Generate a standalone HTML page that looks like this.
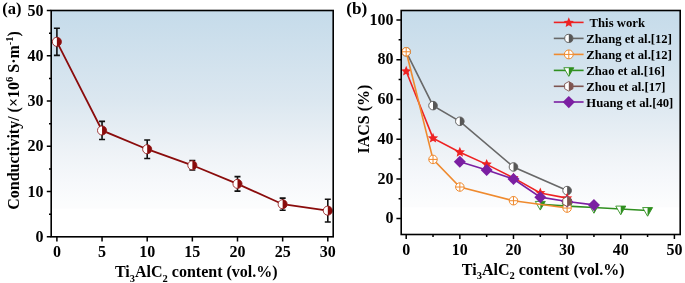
<!DOCTYPE html><html><head><meta charset="utf-8"><style>
html,body{margin:0;padding:0;background:#fff;width:685px;height:283px;overflow:hidden}
svg{display:block;will-change:transform}
text{font-family:'Liberation Serif',serif;font-weight:bold;fill:#000}
</style></head><body>
<svg width="685" height="283" viewBox="0 0 685 283">
<defs>
<linearGradient id="ga" x1="0" y1="0" x2="0" y2="1">
<stop offset="0" stop-color="rgb(197,219,234)"/>
<stop offset="0.45" stop-color="rgb(219,231,240)"/>
<stop offset="0.73" stop-color="rgb(239,243,247)"/>
<stop offset="0.86" stop-color="rgb(246,248,251)"/>
<stop offset="0.97" stop-color="rgb(251,252,253)"/>
<stop offset="1" stop-color="rgb(252,252,253)"/>
</linearGradient>
</defs>
<rect x="51.2" y="10.5" width="282.0" height="198.1" fill="url(#ga)"/>
<rect x="401.2" y="10.5" width="279.00000000000006" height="196.7" fill="url(#ga)"/>
<path d="M56.90 236.8V241.4 M102.05 236.8V241.4 M147.20 236.8V241.4 M192.35 236.8V241.4 M237.50 236.8V241.4 M282.65 236.8V241.4 M327.80 236.8V241.4 M51.2 236.80H46.800000000000004 M51.2 214.17H49.0 M51.2 191.54H46.800000000000004 M51.2 168.91H49.0 M51.2 146.28H46.800000000000004 M51.2 123.65H49.0 M51.2 101.02H46.800000000000004 M51.2 78.39H49.0 M51.2 55.76H46.800000000000004 M51.2 33.13H49.0 M51.2 10.50H46.800000000000004" stroke="#000" stroke-width="1.5" fill="none"/>
<path d="M406.20 234.5V238.9 M433.02 234.5V236.9 M459.84 234.5V238.9 M486.66 234.5V236.9 M513.48 234.5V238.9 M540.30 234.5V236.9 M567.12 234.5V238.9 M593.94 234.5V236.9 M620.76 234.5V238.9 M647.58 234.5V236.9 M674.40 234.5V238.9 M401.2 218.60H396.4 M401.2 198.74H398.59999999999997 M401.2 178.88H396.4 M401.2 159.02H398.59999999999997 M401.2 139.16H396.4 M401.2 119.30H398.59999999999997 M401.2 99.44H396.4 M401.2 79.58H398.59999999999997 M401.2 59.72H396.4 M401.2 39.86H398.59999999999997 M401.2 20.00H396.4" stroke="#000" stroke-width="1.5" fill="none"/>
<text x="56.90" y="257.4" font-size="16" text-anchor="middle">0</text>
<text x="102.05" y="257.4" font-size="16" text-anchor="middle">5</text>
<text x="147.20" y="257.4" font-size="16" text-anchor="middle">10</text>
<text x="192.35" y="257.4" font-size="16" text-anchor="middle">15</text>
<text x="237.50" y="257.4" font-size="16" text-anchor="middle">20</text>
<text x="282.65" y="257.4" font-size="16" text-anchor="middle">25</text>
<text x="327.80" y="257.4" font-size="16" text-anchor="middle">30</text>
<text x="43.60" y="241.80" font-size="16" text-anchor="end">0</text>
<text x="43.60" y="196.54" font-size="16" text-anchor="end">10</text>
<text x="43.60" y="151.28" font-size="16" text-anchor="end">20</text>
<text x="43.60" y="106.02" font-size="16" text-anchor="end">30</text>
<text x="43.60" y="60.76" font-size="16" text-anchor="end">40</text>
<text x="43.60" y="15.50" font-size="16" text-anchor="end">50</text>
<text x="406.20" y="254.6" font-size="16" text-anchor="middle">0</text>
<text x="459.84" y="254.6" font-size="16" text-anchor="middle">10</text>
<text x="513.48" y="254.6" font-size="16" text-anchor="middle">20</text>
<text x="567.12" y="254.6" font-size="16" text-anchor="middle">30</text>
<text x="620.76" y="254.6" font-size="16" text-anchor="middle">40</text>
<text x="674.40" y="254.6" font-size="16" text-anchor="middle">50</text>
<text x="393.60" y="223.30" font-size="16" text-anchor="end">0</text>
<text x="393.60" y="183.58" font-size="16" text-anchor="end">20</text>
<text x="393.60" y="143.86" font-size="16" text-anchor="end">40</text>
<text x="393.60" y="104.14" font-size="16" text-anchor="end">60</text>
<text x="393.60" y="64.42" font-size="16" text-anchor="end">80</text>
<text x="393.60" y="24.70" font-size="16" text-anchor="end">100</text>
<text x="2.3" y="13.6" font-size="16.5">(a)</text>
<text x="346.3" y="13.7" font-size="17.2">(b)</text>
<text x="196.3" y="277.0" font-size="16" text-anchor="middle">Ti<tspan font-size="10.5" dy="4.5">3</tspan><tspan dy="-4.5">AlC</tspan><tspan font-size="10.5" dy="4.5">2</tspan><tspan dy="-4.5"> content (vol.%)</tspan></text>
<text x="543.2" y="274.6" font-size="16" text-anchor="middle">Ti<tspan font-size="10.5" dy="4.5">3</tspan><tspan dy="-4.5">AlC</tspan><tspan font-size="10.5" dy="4.5">2</tspan><tspan dy="-4.5"> content (vol.%)</tspan></text>
<text transform="translate(19.3,120.4) rotate(-90)" font-size="16" text-anchor="middle">Conductivity/ (×10<tspan font-size="10.5" dy="-6">6</tspan><tspan dy="6"> S·m</tspan><tspan font-size="10.5" dy="-6">-1</tspan><tspan dy="6">)</tspan></text>
<text transform="translate(369.4,119.1) rotate(-90)" font-size="16" text-anchor="middle">IACS (%)</text>
<polyline points="56.90,41.82 102.05,130.44 147.20,149.22 192.35,165.29 237.50,183.85 282.65,204.21 327.80,210.64" fill="none" stroke="#8a0c0c" stroke-width="1.8"/>
<path d="M56.90 28.24V55.40M53.90 28.24H59.90M53.90 55.40H59.90" stroke="#111" stroke-width="1.6"/>
<path d="M102.05 121.39V139.49M99.05 121.39H105.05M99.05 139.49H105.05" stroke="#111" stroke-width="1.6"/>
<path d="M147.20 139.94V158.50M144.20 139.94H150.20M144.20 158.50H150.20" stroke="#111" stroke-width="1.6"/>
<path d="M192.35 160.54V170.04M189.35 160.54H195.35M189.35 170.04H195.35" stroke="#111" stroke-width="1.6"/>
<path d="M237.50 176.60V191.09M234.50 176.60H240.50M234.50 191.09H240.50" stroke="#111" stroke-width="1.6"/>
<path d="M282.65 198.10V210.32M279.65 198.10H285.65M279.65 210.32H285.65" stroke="#111" stroke-width="1.6"/>
<path d="M327.80 199.32V221.95M324.80 199.32H330.80M324.80 221.95H330.80" stroke="#111" stroke-width="1.6"/>
<circle cx="56.90" cy="41.82" r="4.55" fill="#fff"/><path d="M56.90 37.27A4.55 4.55 0 0 1 56.90 46.37Z" fill="#8a0c0c"/><circle cx="56.90" cy="41.82" r="4.55" fill="none" stroke="#8a0c0c" stroke-width="0.8"/>
<circle cx="102.05" cy="130.44" r="4.55" fill="#fff"/><path d="M102.05 125.89A4.55 4.55 0 0 1 102.05 134.99Z" fill="#8a0c0c"/><circle cx="102.05" cy="130.44" r="4.55" fill="none" stroke="#8a0c0c" stroke-width="0.8"/>
<circle cx="147.20" cy="149.22" r="4.55" fill="#fff"/><path d="M147.20 144.67A4.55 4.55 0 0 1 147.20 153.77Z" fill="#8a0c0c"/><circle cx="147.20" cy="149.22" r="4.55" fill="none" stroke="#8a0c0c" stroke-width="0.8"/>
<circle cx="192.35" cy="165.29" r="4.55" fill="#fff"/><path d="M192.35 160.74A4.55 4.55 0 0 1 192.35 169.84Z" fill="#8a0c0c"/><circle cx="192.35" cy="165.29" r="4.55" fill="none" stroke="#8a0c0c" stroke-width="0.8"/>
<circle cx="237.50" cy="183.85" r="4.55" fill="#fff"/><path d="M237.50 179.30A4.55 4.55 0 0 1 237.50 188.40Z" fill="#8a0c0c"/><circle cx="237.50" cy="183.85" r="4.55" fill="none" stroke="#8a0c0c" stroke-width="0.8"/>
<circle cx="282.65" cy="204.21" r="4.55" fill="#fff"/><path d="M282.65 199.66A4.55 4.55 0 0 1 282.65 208.76Z" fill="#8a0c0c"/><circle cx="282.65" cy="204.21" r="4.55" fill="none" stroke="#8a0c0c" stroke-width="0.8"/>
<circle cx="327.80" cy="210.64" r="4.55" fill="#fff"/><path d="M327.80 206.09A4.55 4.55 0 0 1 327.80 215.19Z" fill="#8a0c0c"/><circle cx="327.80" cy="210.64" r="4.55" fill="none" stroke="#8a0c0c" stroke-width="0.8"/>
<polyline points="406.20,51.78 433.02,105.60 459.84,121.29 513.48,166.96 567.12,190.60" fill="none" stroke="#686868" stroke-width="1.6"/>
<circle cx="406.20" cy="51.78" r="4.3" fill="#fff"/><path d="M406.20 47.48A4.3 4.3 0 0 1 406.20 56.08Z" fill="#575757"/><circle cx="406.20" cy="51.78" r="4.3" fill="none" stroke="#575757" stroke-width="0.9"/>
<circle cx="433.02" cy="105.60" r="4.3" fill="#fff"/><path d="M433.02 101.30A4.3 4.3 0 0 1 433.02 109.90Z" fill="#575757"/><circle cx="433.02" cy="105.60" r="4.3" fill="none" stroke="#575757" stroke-width="0.9"/>
<circle cx="459.84" cy="121.29" r="4.3" fill="#fff"/><path d="M459.84 116.99A4.3 4.3 0 0 1 459.84 125.59Z" fill="#575757"/><circle cx="459.84" cy="121.29" r="4.3" fill="none" stroke="#575757" stroke-width="0.9"/>
<circle cx="513.48" cy="166.96" r="4.3" fill="#fff"/><path d="M513.48 162.66A4.3 4.3 0 0 1 513.48 171.26Z" fill="#575757"/><circle cx="513.48" cy="166.96" r="4.3" fill="none" stroke="#575757" stroke-width="0.9"/>
<circle cx="567.12" cy="190.60" r="4.3" fill="#fff"/><path d="M567.12 186.30A4.3 4.3 0 0 1 567.12 194.90Z" fill="#575757"/><circle cx="567.12" cy="190.60" r="4.3" fill="none" stroke="#575757" stroke-width="0.9"/>
<polyline points="406.20,71.24 433.02,138.17 459.84,152.27 486.66,164.38 513.48,177.89 540.30,192.98 567.12,198.14" fill="none" stroke="#ee2222" stroke-width="1.6"/>
<polygon points="406.20,65.84 407.66,69.23 411.34,69.57 408.56,72.01 409.37,75.61 406.20,73.72 403.03,75.61 403.84,72.01 401.06,69.57 404.74,69.23" fill="#ee2222"/>
<polygon points="433.02,132.77 434.48,136.16 438.16,136.50 435.38,138.93 436.19,142.54 433.02,140.65 429.85,142.54 430.66,138.93 427.88,136.50 431.56,136.16" fill="#ee2222"/>
<polygon points="459.84,146.87 461.30,150.26 464.98,150.60 462.20,153.04 463.01,156.64 459.84,154.75 456.67,156.64 457.48,153.04 454.70,150.60 458.38,150.26" fill="#ee2222"/>
<polygon points="486.66,158.98 488.12,162.37 491.80,162.71 489.02,165.15 489.83,168.75 486.66,166.87 483.49,168.75 484.30,165.15 481.52,162.71 485.20,162.37" fill="#ee2222"/>
<polygon points="513.48,172.49 514.94,175.88 518.62,176.22 515.84,178.65 516.65,182.26 513.48,180.37 510.31,182.26 511.12,178.65 508.34,176.22 512.02,175.88" fill="#ee2222"/>
<polygon points="540.30,187.58 541.76,190.97 545.44,191.31 542.66,193.75 543.47,197.35 540.30,195.46 537.13,197.35 537.94,193.75 535.16,191.31 538.84,190.97" fill="#ee2222"/>
<polygon points="567.12,192.74 568.58,196.13 572.26,196.48 569.48,198.91 570.29,202.51 567.12,200.63 563.95,202.51 564.76,198.91 561.98,196.48 565.66,196.13" fill="#ee2222"/>
<polyline points="540.30,204.30 567.12,206.09 593.94,207.48 620.76,208.97 647.58,210.46" fill="none" stroke="#2f8f1f" stroke-width="1.6"/>
<path d="M535.30 201.41H545.30L540.30 210.07Z" fill="#fff"/><path d="M540.30 201.41H545.30L540.30 210.07Z" fill="#2f8f1f"/><path d="M535.30 201.41H545.30L540.30 210.07Z" fill="none" stroke="#2f8f1f" stroke-width="0.9" stroke-linejoin="miter"/>
<path d="M562.12 203.20H572.12L567.12 211.86Z" fill="#fff"/><path d="M567.12 203.20H572.12L567.12 211.86Z" fill="#2f8f1f"/><path d="M562.12 203.20H572.12L567.12 211.86Z" fill="none" stroke="#2f8f1f" stroke-width="0.9" stroke-linejoin="miter"/>
<path d="M588.94 204.59H598.94L593.94 213.25Z" fill="#fff"/><path d="M593.94 204.59H598.94L593.94 213.25Z" fill="#2f8f1f"/><path d="M588.94 204.59H598.94L593.94 213.25Z" fill="none" stroke="#2f8f1f" stroke-width="0.9" stroke-linejoin="miter"/>
<path d="M615.76 206.08H625.76L620.76 214.74Z" fill="#fff"/><path d="M620.76 206.08H625.76L620.76 214.74Z" fill="#2f8f1f"/><path d="M615.76 206.08H625.76L620.76 214.74Z" fill="none" stroke="#2f8f1f" stroke-width="0.9" stroke-linejoin="miter"/>
<path d="M642.58 207.57H652.58L647.58 216.23Z" fill="#fff"/><path d="M647.58 207.57H652.58L647.58 216.23Z" fill="#2f8f1f"/><path d="M642.58 207.57H652.58L647.58 216.23Z" fill="none" stroke="#2f8f1f" stroke-width="0.9" stroke-linejoin="miter"/>
<polyline points="406.20,51.78 433.02,159.42 459.84,187.02 513.48,200.73 567.12,208.07" fill="none" stroke="#ef8a2e" stroke-width="1.6"/>
<circle cx="406.20" cy="51.78" r="4.25" fill="#fff" stroke="#ef8a2e" stroke-width="1.0"/><path d="M401.95 51.78H410.45M406.20 47.53V56.03" stroke="#ef8a2e" stroke-width="1.0"/>
<circle cx="433.02" cy="159.42" r="4.25" fill="#fff" stroke="#ef8a2e" stroke-width="1.0"/><path d="M428.77 159.42H437.27M433.02 155.17V163.67" stroke="#ef8a2e" stroke-width="1.0"/>
<circle cx="459.84" cy="187.02" r="4.25" fill="#fff" stroke="#ef8a2e" stroke-width="1.0"/><path d="M455.59 187.02H464.09M459.84 182.77V191.27" stroke="#ef8a2e" stroke-width="1.0"/>
<circle cx="513.48" cy="200.73" r="4.25" fill="#fff" stroke="#ef8a2e" stroke-width="1.0"/><path d="M509.23 200.73H517.73M513.48 196.48V204.98" stroke="#ef8a2e" stroke-width="1.0"/>
<circle cx="567.12" cy="208.07" r="4.25" fill="#fff" stroke="#ef8a2e" stroke-width="1.0"/><path d="M562.87 208.07H571.37M567.12 203.82V212.32" stroke="#ef8a2e" stroke-width="1.0"/>
<polyline points="459.84,161.80 486.66,169.94 513.48,179.08 540.30,197.15 567.12,201.52 593.94,204.90" fill="none" stroke="#7b1fa2" stroke-width="1.6"/>
<path d="M459.84 155.80L465.84 161.80L459.84 167.80L453.84 161.80Z" fill="#7b1fa2"/>
<path d="M486.66 163.94L492.66 169.94L486.66 175.94L480.66 169.94Z" fill="#7b1fa2"/>
<path d="M513.48 173.08L519.48 179.08L513.48 185.08L507.48 179.08Z" fill="#7b1fa2"/>
<path d="M540.30 191.15L546.30 197.15L540.30 203.15L534.30 197.15Z" fill="#7b1fa2"/>
<path d="M567.12 195.52L573.12 201.52L567.12 207.52L561.12 201.52Z" fill="#7b1fa2"/>
<path d="M593.94 198.90L599.94 204.90L593.94 210.90L587.94 204.90Z" fill="#7b1fa2"/>
<polygon points="567.12,196.52 571.45,199.02 571.45,204.02 567.12,206.52 562.79,204.02 562.79,199.02" fill="#fff"/><polygon points="567.12,196.52 571.45,199.02 571.45,204.02 567.12,206.52" fill="#7e5450"/><polygon points="567.12,196.52 571.45,199.02 571.45,204.02 567.12,206.52 562.79,204.02 562.79,199.02" fill="none" stroke="#7e5450" stroke-width="0.9"/>
<path d="M553.8 22.4H583.6" stroke="#ee2222" stroke-width="1.6"/>
<polygon points="568.80,17.30 570.26,20.69 573.94,21.03 571.16,23.47 571.97,27.07 568.80,25.18 565.63,27.07 566.44,23.47 563.66,21.03 567.34,20.69" fill="#ee2222"/>
<text x="589.6" y="27.10" font-size="12.7">This work</text>
<path d="M553.8 38.4H583.6" stroke="#686868" stroke-width="1.6"/>
<circle cx="568.80" cy="38.40" r="4.1" fill="#fff"/><path d="M568.80 34.30A4.1 4.1 0 0 1 568.80 42.50Z" fill="#575757"/><circle cx="568.80" cy="38.40" r="4.1" fill="none" stroke="#575757" stroke-width="0.9"/>
<text x="586.3" y="43.10" font-size="12.7">Zhang et al.[12]</text>
<path d="M553.8 54.4H583.6" stroke="#ef8a2e" stroke-width="1.6"/>
<circle cx="568.80" cy="54.40" r="4.45" fill="#fff" stroke="#ef8a2e" stroke-width="1.0"/><path d="M564.35 54.40H573.25M568.80 49.95V58.85" stroke="#ef8a2e" stroke-width="1.0"/>
<text x="586.3" y="59.10" font-size="12.7">Zhang et al.[12]</text>
<path d="M553.8 70.4H583.6" stroke="#2f8f1f" stroke-width="1.6"/>
<path d="M563.80 67.71H573.80L568.80 76.37Z" fill="#fff"/><path d="M568.80 67.71H573.80L568.80 76.37Z" fill="#2f8f1f"/><path d="M563.80 67.71H573.80L568.80 76.37Z" fill="none" stroke="#2f8f1f" stroke-width="0.9" stroke-linejoin="miter"/>
<text x="586.3" y="75.10" font-size="12.7">Zhao et al.[16]</text>
<path d="M553.8 86.3H583.6" stroke="#7e5450" stroke-width="1.6"/>
<polygon points="568.80,81.50 572.96,83.90 572.96,88.70 568.80,91.10 564.64,88.70 564.64,83.90" fill="#fff"/><polygon points="568.80,81.50 572.96,83.90 572.96,88.70 568.80,91.10" fill="#7e5450"/><polygon points="568.80,81.50 572.96,83.90 572.96,88.70 568.80,91.10 564.64,88.70 564.64,83.90" fill="none" stroke="#7e5450" stroke-width="0.9"/>
<text x="586.3" y="91.00" font-size="12.7">Zhou et al.[17]</text>
<path d="M553.8 102.0H583.6" stroke="#7b1fa2" stroke-width="1.6"/>
<path d="M568.80 96.00L574.90 102.10L568.80 108.20L562.70 102.10Z" fill="#7b1fa2"/>
<text x="586.3" y="106.70" font-size="12.7">Huang et al.[40]</text>
<rect x="51.2" y="10.5" width="282.0" height="226.3" fill="none" stroke="#000" stroke-width="1.6"/>
<rect x="401.2" y="10.5" width="279.00000000000006" height="224.0" fill="none" stroke="#000" stroke-width="1.6"/>
</svg></body></html>
